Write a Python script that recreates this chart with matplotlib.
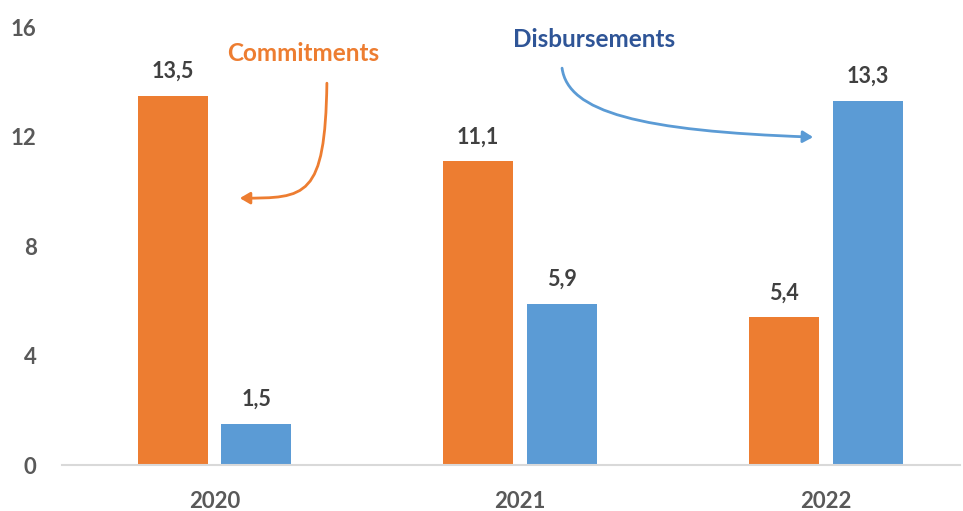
import matplotlib
matplotlib.use("Agg")
import matplotlib.pyplot as plt
import numpy as np
from matplotlib.patches import FancyArrowPatch
from matplotlib.path import Path

YEARS = ["2020", "2021", "2022"]
COMMITMENTS = [13.5, 11.1, 5.4]
DISBURSEMENTS = [1.5, 5.9, 13.3]
YTICKS = [0, 4, 8, 12, 16]

ORANGE = "#ED7D31"
BLUE = "#5B9BD5"
DARK_BLUE = "#2F5597"
LABEL = "#404040"
TICK = "#595959"

plt.rcParams["font.family"] = ["Lato", "DejaVu Sans"]
plt.rcParams["font.weight"] = "bold"


def fmt(v):
    return f"{v:.1f}".replace(".", ",")


def main():
    fig = plt.figure(figsize=(9.63, 5.11), dpi=100)
    ax = fig.add_axes([0.064, 0.09, 0.933, 0.857])

    x = np.arange(len(YEARS))
    w = 0.229
    off = 0.137
    b1 = ax.bar(x - off, COMMITMENTS, w, color=ORANGE)
    b2 = ax.bar(x + off, DISBURSEMENTS, w, color=BLUE)

    for bars, vals in ((b1, COMMITMENTS), (b2, DISBURSEMENTS)):
        for r, v in zip(bars, vals):
            ax.annotate(fmt(v), (r.get_x() + r.get_width() / 2, v),
                        xytext=(0, 10), textcoords="offset points",
                        ha="center", va="bottom", fontsize=15.5,
                        fontweight="bold", color=LABEL)

    ax.set_xlim(-0.5, 2.44)
    ax.set_ylim(0, 16)
    ax.set_yticks(YTICKS)
    ax.set_xticks(x)
    ax.set_xticklabels(YEARS)
    ax.tick_params(axis="both", length=0, labelsize=16, colors=TICK)
    ax.tick_params(axis="y", pad=18)
    ax.tick_params(axis="x", pad=19)
    for s in ("top", "right", "left"):
        ax.spines[s].set_visible(False)
    ax.spines["bottom"].set_color("#D9D9D9")
    ax.spines["bottom"].set_linewidth(1.5)

    # callout labels and curved arrows
    ax.text(0.29, 15.05, "Commitments", color=ORANGE, fontsize=17.5,
            fontweight="bold", ha="center", va="center")
    ax.text(1.242, 15.55, "Disbursements", color=DARK_BLUE, fontsize=17.5,
            fontweight="bold", ha="center", va="center")

    p1 = Path([(0.368, 13.95), (0.362, 9.75), (0.30, 9.75), (0.083, 9.75)],
              [Path.MOVETO, Path.CURVE4, Path.CURVE4, Path.CURVE4])
    ax.add_patch(FancyArrowPatch(path=p1, arrowstyle="-|>,head_length=6,head_width=3.5",
                                 color=ORANGE, lw=2))
    p2 = Path([(1.1375, 14.5), (1.157, 12.9), (1.39, 12.2), (1.959, 11.98)],
              [Path.MOVETO, Path.CURVE4, Path.CURVE4, Path.CURVE4])
    ax.add_patch(FancyArrowPatch(path=p2, arrowstyle="-|>,head_length=6,head_width=3.5",
                                 color=BLUE, lw=2))

    fig.savefig("out.png", dpi=100)


if __name__ == "__main__":
    main()
